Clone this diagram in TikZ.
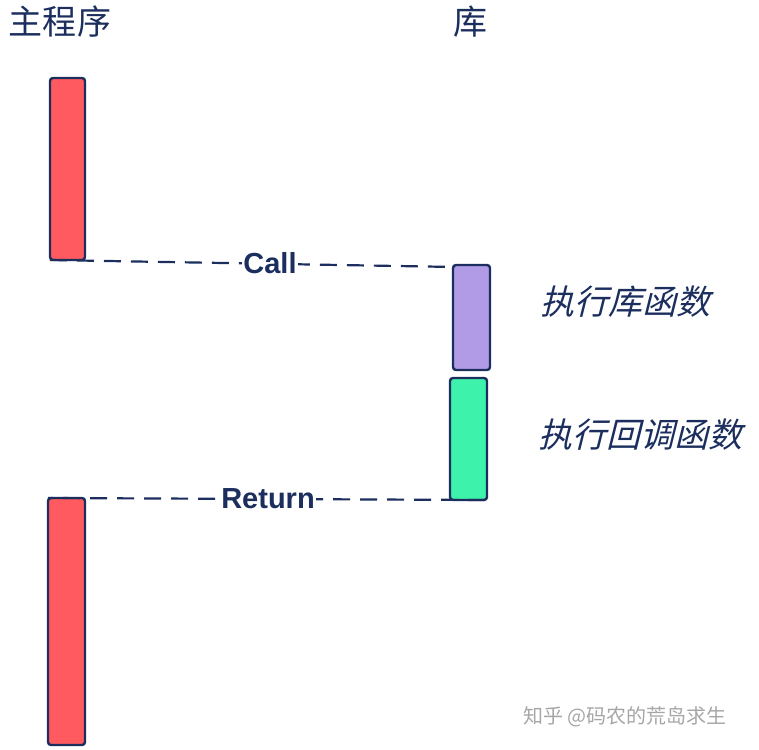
\documentclass[tikz,border=0pt]{standalone}
\usepackage{fontspec}
\newfontfamily\cjk{Noto Sans CJK SC}
\newfontfamily\cjkit[FakeSlant=0.25]{Noto Sans CJK SC}
\setmainfont{Liberation Sans}
\definecolor{navy}{HTML}{1B2E5E}
\definecolor{redf}{HTML}{FF5A5F}
\definecolor{purf}{HTML}{B29BE6}
\definecolor{grnf}{HTML}{3DF2AA}
\tikzset{bar/.style={draw=navy,line width=2.4pt,rounded corners=3pt},
 conn/.style={draw=navy,line width=2.2pt,dash pattern=on 17pt off 10pt},
 lbl/.style={text=navy,font=\bfseries\fontsize{29}{31}\selectfont,fill=white,inner sep=1pt},
 ttl/.style={text=navy,font=\cjk\fontsize{34}{36}\selectfont},
 note/.style={text=navy,font=\cjkit\fontsize{34}{36}\selectfont}}
\begin{document}
\begin{tikzpicture}[x=1pt,y=-1pt]
\useasboundingbox (0,0) rectangle (759,749);
\node[ttl] (t1) at (60,22) {主程序};
\node[ttl] (t2) at (470,22) {库};
\draw[bar,fill=redf] (50,78) rectangle (85,260);
\draw[bar,fill=purf] (453,265) rectangle (490,370);
\draw[bar,fill=grnf] (450,378) rectangle (487,500);
\draw[bar,fill=redf] (48,498) rectangle (85,745);
\coordinate (c1) at (50,260); \coordinate (c2) at (455,267);
\coordinate (r1) at (485,500); \coordinate (r2) at (48,498);
\draw[conn] (c1) -- (c2);
\draw[conn] (r1) -- (r2);
\node[lbl] (call) at (270,263) {Call};
\node[lbl] (ret) at (268,499) {Return};
\node[note] (n1) at (625,302) {执行库函数};
\node[note] (n2) at (640,435) {执行回调函数};
\node[text=gray!70,font=\cjk\fontsize{20}{22}\selectfont] (wm) at (625,717) {知乎 @码农的荒岛求生};
\end{tikzpicture}
\end{document}
